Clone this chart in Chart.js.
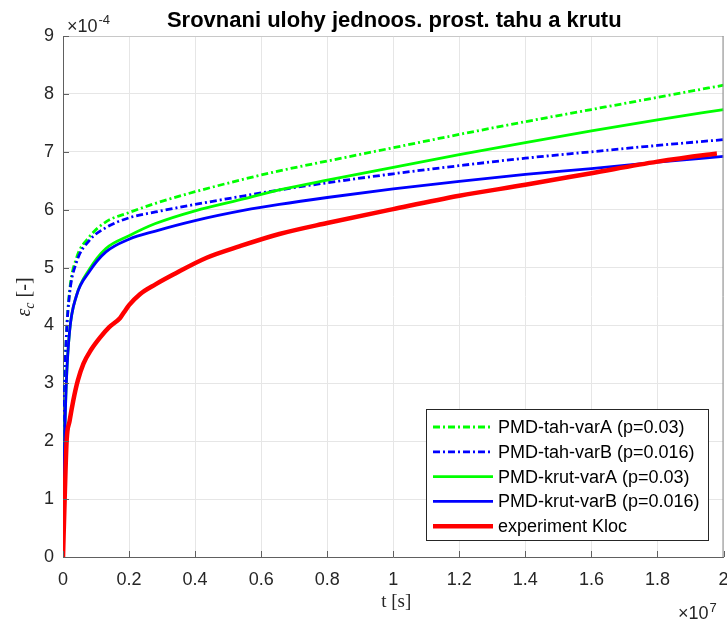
<!DOCTYPE html>
<html>
<head>
<meta charset="utf-8">
<script src="https://cdn.jsdelivr.net/npm/chart.js@4"></script>
<style>
  html, body { margin: 0; padding: 0; background: #fff; }
  canvas { display: block; }
</style>
</head>
<body>
<canvas id="creepChart" width="727" height="621"></canvas>
<script>
// t in units of 1e7 s, strain in units of 1e-4
const seriesLabels = [
  'PMD-tah-varA (p=0.03)',
  'PMD-tah-varB (p=0.016)',
  'PMD-krut-varA (p=0.03)',
  'PMD-krut-varB (p=0.016)',
  'experiment Kloc'
];

const modelTime = [0, 0.002, 0.005, 0.01, 0.02, 0.04, 0.08, 0.13, 0.2, 0.28, 0.4, 0.55, 0.655, 0.8, 1.0, 1.2, 1.4, 1.6, 1.8, 2.0];
const tahA  = [0, 2.0, 3.0, 3.8, 4.6, 5.15, 5.53, 5.79, 5.95, 6.11, 6.31, 6.53, 6.67, 6.84, 7.07, 7.30, 7.52, 7.73, 7.94, 8.15];
const tahB  = [0, 2.0, 3.0, 3.8, 4.55, 5.08, 5.47, 5.69, 5.86, 5.96, 6.09, 6.24, 6.34, 6.465, 6.62, 6.76, 6.89, 7.00, 7.11, 7.21];
const krutA = [0, 1.0, 2.0, 3.0, 3.9, 4.5, 4.97, 5.33, 5.55, 5.76, 5.98, 6.19, 6.34, 6.51, 6.73, 6.95, 7.16, 7.36, 7.55, 7.73];
const krutB = [0, 1.0, 2.0, 3.0, 3.9, 4.5, 4.93, 5.27, 5.49, 5.63, 5.81, 5.99, 6.09, 6.21, 6.36, 6.49, 6.61, 6.71, 6.82, 6.92];

const expTime   = [0, 0.005, 0.011, 0.02, 0.031, 0.045, 0.062, 0.085, 0.112, 0.14, 0.173, 0.185, 0.2, 0.233, 0.28, 0.334, 0.435, 0.536, 0.655, 0.8, 1.0, 1.2, 1.4, 1.6, 1.8, 1.95, 1.98];
const expStrain = [0, 1.0, 2.01, 2.35, 2.70, 3.05, 3.34, 3.58, 3.79, 3.97, 4.13, 4.23, 4.35, 4.54, 4.71, 4.88, 5.17, 5.37, 5.58, 5.77, 6.01, 6.24, 6.43, 6.63, 6.83, 6.95, 6.97];

const xTicks = [0, 0.2, 0.4, 0.6, 0.8, 1, 1.2, 1.4, 1.6, 1.8, 2];
const yTicks = [0, 1, 2, 3, 4, 5, 6, 7, 8, 9];

const SANS = "'Liberation Sans', Arial, Helvetica, sans-serif";
const SERIF = "'Liberation Serif', 'DejaVu Serif', serif";
const DASHDOT = [7, 3, 2, 3];

function toPoints(xs, ys) {
  return xs.map((x, i) => ({ x, y: ys[i] }));
}

const styles = [
  { color: '#00ff00', width: 2.8, dash: DASHDOT, order: 4 },
  { color: '#0000ff', width: 2.8, dash: DASHDOT, order: 3 },
  { color: '#00ff00', width: 2.8, dash: [], order: 2 },
  { color: '#0000ff', width: 2.8, dash: [], order: 1 },
  { color: '#ff0000', width: 4.5, dash: [], order: 0 }
];

const seriesData = [
  toPoints(modelTime, tahA),
  toPoints(modelTime, tahB),
  toPoints(modelTime, krutA),
  toPoints(modelTime, krutB),
  toPoints(expTime, expStrain)
];

const datasets = seriesData.map((data, i) => ({
  label: seriesLabels[i],
  data,
  borderColor: styles[i].color,
  borderWidth: styles[i].width,
  borderDash: styles[i].dash,
  order: styles[i].order,
  pointRadius: 0,
  fill: false,
  cubicInterpolationMode: 'monotone'
}));

// MATLAB-like decorations: box, inward ticks, title, labels, exponents, legend
const matlabDecor = {
  id: 'matlabDecor',
  afterDraw(chart) {
    const { ctx, chartArea: a, scales } = chart;
    ctx.save();

    // top / right box
    ctx.lineWidth = 1;
    ctx.strokeStyle = '#c8c8c8';
    ctx.beginPath();
    ctx.moveTo(a.left, a.top + 0.5);
    ctx.lineTo(a.right, a.top + 0.5);
    ctx.stroke();
    ctx.strokeStyle = '#8a8a8a';
    ctx.beginPath();
    ctx.moveTo(a.right - 0.5, a.top);
    ctx.lineTo(a.right - 0.5, a.bottom);
    ctx.stroke();

    // inward ticks
    ctx.strokeStyle = '#606060';
    ctx.beginPath();
    xTicks.forEach(v => {
      const px = Math.round(scales.x.getPixelForValue(v)) + 0.5;
      ctx.moveTo(px, a.bottom);
      ctx.lineTo(px, a.bottom - 6);
    });
    yTicks.forEach(v => {
      const py = Math.round(scales.y.getPixelForValue(v)) + 0.5;
      ctx.moveTo(a.left, py);
      ctx.lineTo(a.left + 6, py);
    });
    ctx.stroke();

    ctx.fillStyle = '#000';

    // title
    ctx.font = `bold 22px ${SANS}`;
    ctx.textAlign = 'center';
    ctx.textBaseline = 'alphabetic';
    ctx.fillText('Srovnani ulohy jednoos. prost. tahu a krutu', (a.left + a.right) / 2 + 1, 27);

    // exponent labels
    ctx.fillStyle = '#262626';
    ctx.textAlign = 'left';
    ctx.font = `18px ${SANS}`;
    let w = ctx.measureText('\u00d710').width;
    ctx.fillText('\u00d710', 67, 32);
    ctx.font = `13px ${SANS}`;
    ctx.fillText('-4', 67 + w + 1, 24);

    ctx.font = `18px ${SANS}`;
    w = ctx.measureText('\u00d710').width;
    ctx.fillText('\u00d710', 678, 619);
    ctx.font = `13px ${SANS}`;
    ctx.fillText('7', 678 + w + 1, 612);

    // x label
    ctx.fillStyle = '#262626';
    ctx.font = `19px ${SERIF}`;
    ctx.textAlign = 'center';
    ctx.fillText('t [s]', (a.left + a.right) / 2 + 3, 607);

    // y label (rotated)
    ctx.save();
    ctx.translate(30, 297);
    ctx.rotate(-Math.PI / 2);
    const epsFont = `italic 20px ${SERIF}`;
    const subFont = `italic 14px ${SERIF}`;
    const restFont = `20px ${SERIF}`;
    ctx.font = epsFont; const wE = ctx.measureText('\u03b5').width;
    ctx.font = subFont; const wC = ctx.measureText('c').width;
    ctx.font = restFont; const wR = ctx.measureText(' [-]').width;
    let x0 = -(wE + wC + wR) / 2;
    ctx.textAlign = 'left';
    ctx.font = epsFont; ctx.fillText('\u03b5', x0, 0); x0 += wE;
    ctx.font = subFont; ctx.fillText('c', x0, 4); x0 += wC;
    ctx.font = restFont; ctx.fillText(' [-]', x0, 0);
    ctx.restore();

    // legend
    const lx = 426.5, ly = 409.5, lw = 282, lh = 131;
    ctx.fillStyle = '#fff';
    ctx.fillRect(lx, ly, lw, lh);
    ctx.strokeStyle = '#262626';
    ctx.lineWidth = 1;
    ctx.strokeRect(lx, ly, lw, lh);
    ctx.font = `18px ${SANS}`;
    ctx.textBaseline = 'middle';
    ctx.textAlign = 'left';
    seriesLabels.forEach((label, i) => {
      const ry = 427 + i * 24.8;
      ctx.beginPath();
      ctx.setLineDash(styles[i].dash);
      ctx.strokeStyle = styles[i].color;
      ctx.lineWidth = styles[i].width;
      ctx.moveTo(433, ry);
      ctx.lineTo(493, ry);
      ctx.stroke();
      ctx.setLineDash([]);
      ctx.fillStyle = '#000';
      ctx.fillText(label, 498, ry + 1);
    });

    ctx.restore();
  }
};

new Chart(document.getElementById('creepChart'), {
  type: 'line',
  data: { datasets },
  options: {
    responsive: false,
    animation: false,
    devicePixelRatio: 1,
    layout: { padding: { top: 36, right: 3.5, left: 0, bottom: 0 } },
    plugins: {
      legend: { display: false },
      title: { display: false },
      tooltip: { enabled: false }
    },
    scales: {
      x: {
        type: 'linear',
        min: 0,
        max: 2,
        afterFit: s => { s.height = 64; s.paddingLeft = 0; s.paddingRight = 0; },
        afterBuildTicks: s => { s.ticks = xTicks.map(v => ({ value: v })); },
        ticks: {
          padding: 12,
          color: '#262626',
          font: { family: SANS, size: 18 },
          callback: v => String(+v.toFixed(1))
        },
        grid: { color: '#e6e6e6', lineWidth: 1, drawTicks: false },
        border: { display: true, color: '#606060', width: 1 }
      },
      y: {
        type: 'linear',
        min: 0,
        max: 9,
        afterFit: s => { s.width = 63; s.paddingTop = 0; s.paddingBottom = 0; },
        afterBuildTicks: s => { s.ticks = yTicks.map(v => ({ value: v })); },
        ticks: {
          padding: 9,
          color: '#262626',
          font: { family: SANS, size: 18 },
          callback: v => String(v)
        },
        grid: { color: '#e6e6e6', lineWidth: 1, drawTicks: false },
        border: { display: true, color: '#606060', width: 1 }
      }
    }
  },
  plugins: [matlabDecor]
});
</script>
</body>
</html>
